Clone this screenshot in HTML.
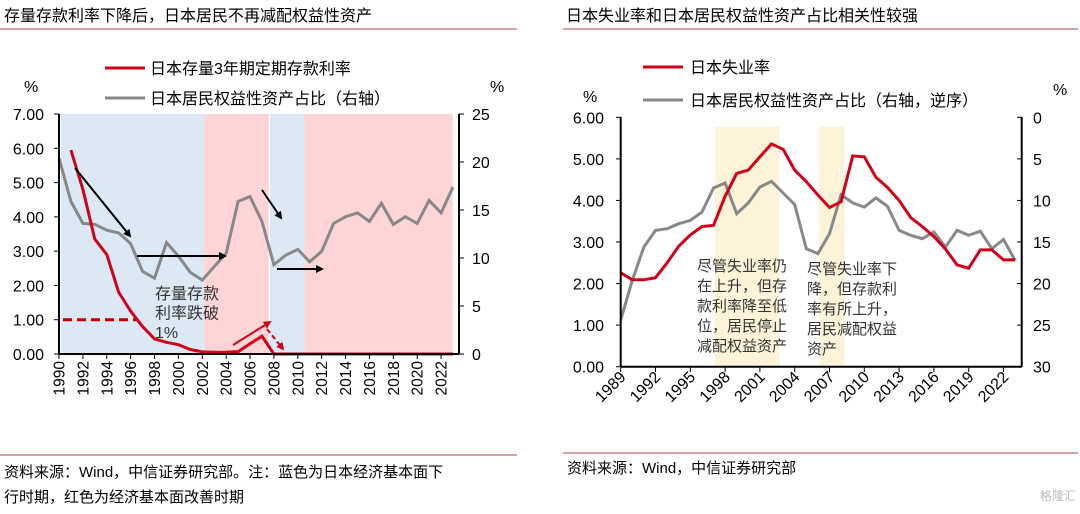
<!DOCTYPE html>
<html><head><meta charset="utf-8"><style>
body{margin:0;background:#fff;width:1080px;height:509px;overflow:hidden;font-family:"Liberation Sans","Noto Sans CJK SC",sans-serif}
svg text{font-family:"Liberation Sans","Noto Sans CJK SC",sans-serif}
</style></head><body>
<svg id="s" width="1080" height="509" viewBox="0 0 1080 509">
<defs>
<marker id="ab" markerWidth="8" markerHeight="8" refX="6" refY="4" orient="auto" markerUnits="userSpaceOnUse"><path d="M0,0 L8,4 L0,8 z" fill="#000"/></marker>
<marker id="ar" markerWidth="8" markerHeight="8" refX="6" refY="4" orient="auto" markerUnits="userSpaceOnUse"><path d="M0,0 L8,4 L0,8 z" fill="#d0021b"/></marker>
</defs>
<text x="4" y="21" font-size="16" fill="#000">存量存款利率下降后，日本居民不再减配权益性资产</text>
<line x1="0" y1="29" x2="517" y2="29" stroke="#d9a0a4" stroke-width="2"/>
<text x="566" y="21" font-size="16" fill="#000">日本失业率和日本居民权益性资产占比相关性较强</text>
<line x1="563" y1="29" x2="1078" y2="29" stroke="#d9a0a4" stroke-width="2"/>

<g>
<line x1="105" y1="68" x2="145" y2="68" stroke="#d0021b" stroke-width="3"/>
<text x="150" y="74" font-size="16">日本存量3年期定期存款利率</text>
<line x1="105" y1="98" x2="145" y2="98" stroke="#888" stroke-width="3"/>
<text x="150" y="104" font-size="16">日本居民权益性资产占比（右轴）</text>
</g>
<text x="24" y="92" font-size="16">%</text>
<text x="490" y="92" font-size="16">%</text>

<g>
<line x1="643" y1="67" x2="683" y2="67" stroke="#d0021b" stroke-width="3"/>
<text x="690" y="73" font-size="16">日本失业率</text>
<line x1="643" y1="100" x2="683" y2="100" stroke="#888" stroke-width="3"/>
<text x="690" y="106" font-size="16">日本居民权益性资产占比（右轴，逆序）</text>
</g>
<text x="583" y="102" font-size="16">%</text>
<text x="1053" y="95" font-size="16">%</text>

<g id="L"></g><g id="R"></g>

<line x1="0" y1="455" x2="517" y2="455" stroke="#d9a0a4" stroke-width="2"/>
<text x="4" y="477" font-size="15">资料来源：Wind，中信证券研究部。注：蓝色为日本经济基本面下</text>
<text x="4" y="502" font-size="15">行时期，红色为经济基本面改善时期</text>
<line x1="563" y1="453" x2="1078" y2="453" stroke="#d9a0a4" stroke-width="2"/>
<text x="567" y="473" font-size="15">资料来源：Wind，中信证券研究部</text>
<text x="1040" y="500" font-size="12" fill="#bbb">格隆汇</text>
</svg>
<script>
// Left chart data
const lYears=[1990,1991,1992,1993,1994,1995,1996,1997,1998,1999,2000,2001,2002,2003,2004,2005,2006,2007,2008,2009,2010,2011,2012,2013,2014,2015,2016,2017,2018,2019,2020,2021,2022,2023];
const depositRate=[null,5.95,4.8,3.35,2.9,1.8,1.25,0.8,0.44,0.34,0.27,0.13,0.06,0.05,0.05,0.07,0.3,0.52,0,0,0,0,0,0,0,0,0,0,0,0,0,0,0,0];
const equityShareL=[20.4,15.9,13.6,13.5,12.9,12.6,11.5,8.6,7.9,11.6,10.2,8.5,7.7,9.1,10.5,15.9,16.4,13.8,9.3,10.3,10.9,9.6,10.7,13.6,14.3,14.7,13.8,15.7,13.5,14.3,13.6,16.0,14.7,17.4];
const lTicks=["0.00","1.00","2.00","3.00","4.00","5.00","6.00","7.00"];
const lTicks2=["0","5","10","15","20","25"];
const lXLabels=[1990,1992,1994,1996,1998,2000,2002,2004,2006,2008,2010,2012,2014,2016,2018,2020,2022];
const lPeriods=[[1990,2002,"blue"],[2002,2007.4,"pink"],[2007.5,2010.4,"blue"],[2010.4,2022.8,"pink"]];
// Right chart data
const rYears=[1989,1990,1991,1992,1993,1994,1995,1996,1997,1998,1999,2000,2001,2002,2003,2004,2005,2006,2007,2008,2009,2010,2011,2012,2013,2014,2015,2016,2017,2018,2019,2020,2021,2022,2023];
const unemployment=[2.26,2.09,2.09,2.14,2.5,2.9,3.17,3.37,3.4,4.1,4.65,4.73,5.05,5.36,5.23,4.73,4.45,4.13,3.83,3.97,5.07,5.05,4.56,4.31,4.0,3.59,3.37,3.13,2.83,2.45,2.37,2.81,2.81,2.57,2.57];
const equityShareR=[24.4,19.6,15.6,13.6,13.4,12.8,12.4,11.4,8.5,7.9,11.6,10.3,8.4,7.7,9.1,10.5,15.8,16.4,14.0,9.3,10.3,10.8,9.7,10.7,13.6,14.2,14.6,13.8,15.6,13.6,14.2,13.7,15.8,14.7,17.2];
const rTicks=["0.00","1.00","2.00","3.00","4.00","5.00","6.00"];
const rTicks2=["0","5","10","15","20","25","30"];
const rXLabels=[1989,1992,1995,1998,2001,2004,2007,2010,2013,2016,2019,2022];
const rShade=[[1997.1,2002.7],[2006.1,2008.3]];

const NS="http://www.w3.org/2000/svg";
function mk(p,tag,a,txt){const e=document.createElementNS(NS,tag);for(const k in a)e.setAttribute(k,a[k]);if(txt!=null)e.textContent=txt;p.appendChild(e);return e;}
function path(xs,ys,xf,yf){let d="",pen=false;xs.forEach((x,i)=>{if(ys[i]==null){pen=false;return;}d+=(pen?"L":"M")+xf(x).toFixed(1)+","+yf(ys[i]).toFixed(1);pen=true;});return d;}

// LEFT
const L=document.getElementById("L");
const lx=y=>59+(y-1990)*11.94, ly=v=>354-v*240/7, ly2=v=>354-v*240/25;
lPeriods.forEach(p=>{const r=mk(L,"rect",{x:lx(p[0])+2,y:114,width:lx(p[1])-lx(p[0]),height:240,fill:p[2]=="blue"?"#dce9f5":"#fdd5d7"});

});
let e=mk(L,"path",{d:path(lYears,equityShareL,lx,ly2),fill:"none",stroke:"#888",'stroke-width':3});


e=mk(L,"path",{d:path(lYears,depositRate,lx,ly),fill:"none",stroke:"#d0021b",'stroke-width':3});


mk(L,"line",{x1:59,y1:114,x2:59,y2:354,stroke:"#000",'stroke-width':2});
mk(L,"line",{x1:459,y1:114,x2:459,y2:354,stroke:"#000",'stroke-width':2});
mk(L,"line",{x1:59,y1:354,x2:459,y2:354,stroke:"#000",'stroke-width':2});
lTicks.forEach(t=>{const v=+t;mk(L,"line",{x1:54,y1:ly(v),x2:59,y2:ly(v),stroke:"#000"});const tx=mk(L,"text",{x:44,y:ly(v)+6,'font-size':16,'text-anchor':"end"},t);

});
lTicks2.forEach(t=>{const v=+t;mk(L,"line",{x1:459,y1:ly2(v),x2:464,y2:ly2(v),stroke:"#000"});const tx=mk(L,"text",{x:472,y:ly2(v)+6,'font-size':16},t);

});
lXLabels.forEach(y=>{const x=lx(y);mk(L,"line",{x1:x,y1:354,x2:x,y2:359,stroke:"#000"});const tx=mk(L,"text",{x:0,y:0,'font-size':15.5,'text-anchor':"end",transform:`translate(${x+5.5},361) rotate(-90)`},String(y));

});
mk(L,"line",{x1:63,y1:ly(1),x2:136,y2:ly(1),stroke:"#c00000",'stroke-width':3,'stroke-dasharray':"9,5"});
[[75,168,130,236],[137,256,225,256],[262,190,281,218],[277,269,322,269]].forEach(a=>mk(L,"line",{x1:a[0],y1:a[1],x2:a[2],y2:a[3],stroke:"#000",'stroke-width':2,'marker-end':"url(#ab)"}));
mk(L,"line",{x1:233,y1:345,x2:270,y2:322,stroke:"#d0021b",'stroke-width':2,'marker-end':"url(#ar)"});
mk(L,"line",{x1:267,y1:329,x2:283,y2:349,stroke:"#d0021b",'stroke-width':2,'stroke-dasharray':"5,3",'marker-end':"url(#ar)"});
["存量存款","利率跌破","1%"].forEach((s,i)=>{const tx=mk(L,"text",{x:155,y:299+i*19.5,'font-size':16,fill:"#333"},s);

});

// RIGHT
const R=document.getElementById("R");
const rx=y=>620.7+(y-1989)*11.6, ry=v=>366.7-v*249.4/6, ry2=v=>117.3+v*249.4/30;
rShade.forEach(s=>{const r=mk(R,"rect",{x:rx(s[0]),y:127,width:rx(s[1])-rx(s[0]),height:240,fill:"#fdf3d8"});

});
e=mk(R,"path",{d:path(rYears,equityShareR,rx,ry2),fill:"none",stroke:"#888",'stroke-width':3});


e=mk(R,"path",{d:path(rYears,unemployment,rx,ry),fill:"none",stroke:"#d0021b",'stroke-width':3});


mk(R,"line",{x1:620.7,y1:117,x2:620.7,y2:367,stroke:"#000",'stroke-width':2});
mk(R,"line",{x1:1021.7,y1:117,x2:1021.7,y2:367,stroke:"#000",'stroke-width':2});
mk(R,"line",{x1:620.7,y1:366.7,x2:1021.7,y2:366.7,stroke:"#000",'stroke-width':2});
rTicks.forEach(t=>{const v=+t;mk(R,"line",{x1:616,y1:ry(v),x2:621,y2:ry(v),stroke:"#000"});const tx=mk(R,"text",{x:604,y:ry(v)+6,'font-size':16,'text-anchor':"end"},t);

});
rTicks2.forEach(t=>{const v=+t;mk(R,"line",{x1:1017,y1:ry2(v),x2:1022,y2:ry2(v),stroke:"#000"});const tx=mk(R,"text",{x:1033,y:ry2(v)+6,'font-size':16},t);

});
rXLabels.forEach(y=>{const x=rx(y);mk(R,"line",{x1:x,y1:367,x2:x,y2:372,stroke:"#000"});const tx=mk(R,"text",{x:0,y:0,'font-size':16,'text-anchor':"end",transform:`translate(${x+6},378) rotate(-45)`},String(y));

});
["尽管失业率仍","在上升，但存","款利率降至低","位，居民停止","减配权益资产"].forEach((s,i)=>{const tx=mk(R,"text",{x:697,y:271+i*20,'font-size':15,fill:"#333"},s);

});
["尽管失业率下","降，但存款利","率有所上升，","居民减配权益","资产"].forEach((s,i)=>{const tx=mk(R,"text",{x:807,y:274+i*20,'font-size':15,fill:"#333"},s);

});
</script>
</body></html>
